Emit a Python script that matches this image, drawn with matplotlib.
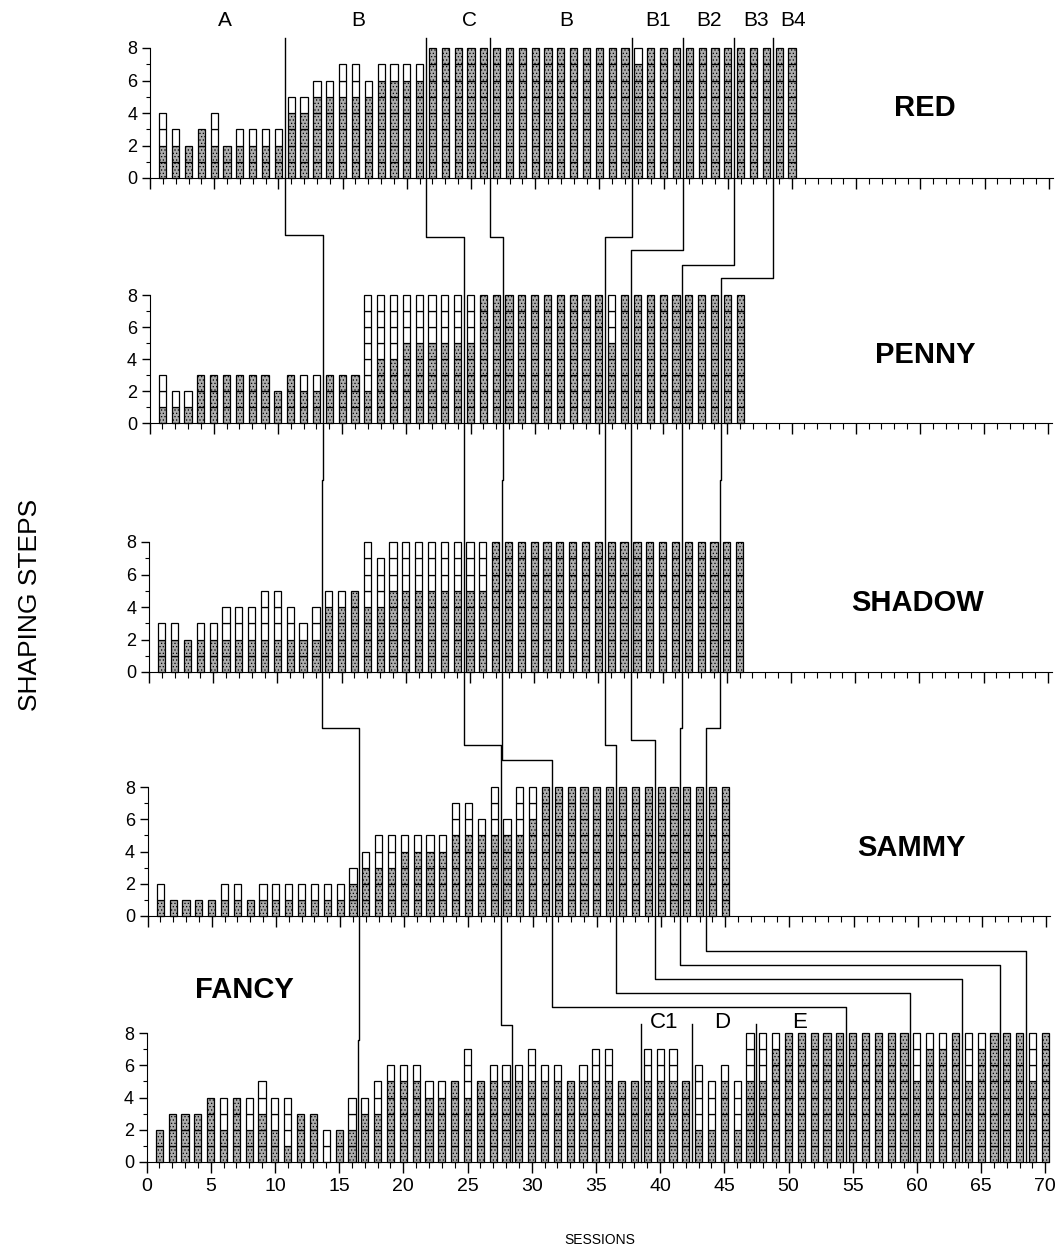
import numpy as np
import matplotlib.pyplot as plt
from matplotlib.lines import Line2D

plt.rcParams['font.family'] = ['Liberation Sans', 'DejaVu Sans']
plt.rcParams['hatch.linewidth'] = 0.5

# bar height = steps presented, shaded part = steps passed, one bar per session
red_total = [4,3,2,3,4,2,3,3,3,3, 5,5,6,6,7,7,6,7,7,7, 7,8,8,8,8,8,8,8,8,8,
             8,8,8,8,8,8,8,8,8,8, 8,8,8,8,8,8,8,8,8,8]
red_done  = [2,2,2,3,2,2,2,2,2,2, 4,4,5,5,5,5,5,6,6,6, 6,8,8,8,8,8,8,8,8,8,
             8,8,8,8,8,8,8,7,8,8, 8,8,8,8,8,8,8,8,8,8]

penny_total = [3,2,2,3,3,3,3,3,3,2, 3,3,3,3,3,3,8,8,8,8, 8,8,8,8,8,8,8,8,8,8,
               8,8,8,8,8,8,8,8,8,8, 8,8,8,8,8,8]
penny_done  = [1,1,1,3,3,3,3,3,3,2, 3,2,2,3,3,3,2,4,4,5, 5,5,5,5,5,8,8,8,8,8,
               8,8,8,8,8,5,8,8,8,8, 8,8,8,8,8,8]

shadow_total = [3,3,2,3,3,4,4,4,5,5, 4,3,4,5,5,5,8,7,8,8, 8,8,8,8,8,8,8,8,8,8,
                8,8,8,8,8,8,8,8,8,8, 8,8,8,8,8,8]
shadow_done  = [2,2,2,2,2,2,2,2,2,2, 2,2,2,4,4,5,4,4,5,5, 5,5,5,5,5,5,8,8,8,8,
                8,8,8,8,8,8,8,8,8,8, 8,8,8,8,8,8]

sammy_total = [2,1,1,1,1,2,2,1,2,2, 2,2,2,2,2,3,4,5,5,5, 5,5,5,7,7,6,8,6,8,8,
               8,8,8,8,8,8,8,8,8,8, 8,8,8,8,8]
sammy_done  = [1,1,1,1,1,1,1,1,1,1, 1,1,1,1,1,2,3,3,3,4, 4,4,4,5,5,5,5,5,5,6,
               8,8,8,8,8,8,8,8,8,8, 8,8,8,8,8]

fancy_total = [2,3,3,3,4,4,4,4,5,4, 4,3,3,2,2,4,4,5,6,6, 6,5,5,5,7,5,6,6,6,7,
               6,6,5,6,7,7,5,5,7,7, 7,5,6,5,6,5,8,8,8,8, 8,8,8,8,8,8,8,8,8,8,
               8,8,8,8,8,8,8,8,8,8]
fancy_done  = [2,3,3,3,4,2,4,2,3,2, 1,3,3,0,2,2,3,3,5,5, 5,4,4,5,4,5,5,5,5,5,
               5,5,5,5,5,5,5,5,5,5, 5,5,2,2,5,2,5,5,7,8, 8,8,8,8,8,8,8,8,8,5,
               7,7,8,5,7,8,8,8,5,8]

names = ['RED', 'PENNY', 'SHADOW', 'SAMMY', 'FANCY']
totals = [red_total, penny_total, shadow_total, sammy_total, fancy_total]
dones = [red_done, penny_done, shadow_done, sammy_done, fancy_done]

# phase boundaries (session) for each subject, top to bottom
boundaries = [
    [10.5, 13.5, 13.5, 16.5, 16.5],
    [21.5, 24.5, 24.5, 27.5, 28.5],
    [26.5, 27.5, 27.5, 31.5, 54.5],
    [37.5, 35.5, 35.5, 36.5, 59.5],
    [41.5, 37.5, 37.5, 39.5, 63.5],
    [45.5, 41.5, 41.5, 41.5, 66.5],
    [48.5, 44.5, 44.5, 43.5, 68.5],
]
red_phases = ['A', 'B', 'C', 'B', 'B1', 'B2', 'B3', 'B4']
red_phase_x = [5.8, 16.2, 24.9, 32.4, 39.6, 43.5, 47.2, 50.1]
fancy_extra = [38.5, 42.5, 47.5]
fancy_extra_labels = ['C1', 'D', 'E']
fancy_extra_x = [40.3, 44.8, 50.9]

W, H = 1059, 1255
fig = plt.figure(figsize=(W / 100, H / 100), dpi=100)

lefts = [150, 149.5, 149, 147.5, 146.5]
y0s = [178, 423, 672, 916, 1162]
y8s = [48, 295, 542, 787, 1033]
pps = 12.84
xmax = 70.3

axes = []
for i in range(5):
    ax = fig.add_axes([lefts[i] / W, (H - y0s[i]) / H, xmax * pps / W, (y0s[i] - y8s[i]) / H])
    x = np.arange(1, len(totals[i]) + 1)
    tot = np.array(totals[i])
    done = np.array(dones[i])
    for k in range(8):
        g = (tot > k) & (done > k)
        w = (tot > k) & (done <= k)
        ax.bar(x[g], 1, width=0.56, bottom=k, facecolor='#adadad', edgecolor='black',
               linewidth=0.9, hatch='.....', clip_on=False)
        ax.bar(x[w], 1, width=0.56, bottom=k, facecolor='white', edgecolor='black',
               linewidth=0.9, clip_on=False)
    ax.set_xlim(0, xmax)
    ax.set_ylim(0, 8)
    for s in ['top', 'right']:
        ax.spines[s].set_visible(False)
    ax.set_xticks(range(0, 71, 5))
    ax.set_xticks(range(0, 71), minor=True)
    ax.set_yticks([0, 2, 4, 6, 8])
    ax.set_yticks([1, 3, 5, 7], minor=True)
    ax.tick_params(axis='x', which='major', length=8, width=1, labelsize=14)
    ax.tick_params(axis='x', which='minor', length=4, width=0.8)
    ax.tick_params(axis='y', which='major', length=6, width=1, labelsize=13, pad=3)
    ax.tick_params(axis='y', which='minor', length=3, width=0.8)
    if i < 4:
        ax.tick_params(axis='x', labelbottom=False)
    axes.append(ax)

# connecting lines across panels (pixel rows of the horizontal jogs)
jogs = [
    [235, 480, 728, 1040],
    [237, 480, 745, 1025],
    [237, 480, 760, 1007],
    [237, 480, 745, 993],
    [250, 480, 740, 979],
    [265, 480, 728, 965],
    [278, 480, 728, 951],
]


def xd(i, s):
    return axes[i].transData.transform((s, 0))[0]


for b, j in zip(boundaries, jogs):
    xs = [xd(0, b[0])]
    ys = [H - 38]
    for i in range(4):
        xs += [xd(i, b[i]), xd(i + 1, b[i + 1])]
        ys += [H - j[i], H - j[i]]
    xs.append(xd(4, b[4]))
    ys.append(axes[4].transData.transform((0, 0))[1])
    fig.add_artist(Line2D(np.array(xs) / W, np.array(ys) / H, transform=fig.transFigure,
                          color='black', lw=1))

for s in fancy_extra:
    xx = xd(4, s)
    y_bot = axes[4].transData.transform((0, 0))[1]
    fig.add_artist(Line2D([xx / W, xx / W], [(H - 1024) / H, y_bot / H],
                          transform=fig.transFigure, color='black', lw=1))

for lab, s in zip(red_phases, red_phase_x):
    fig.text(xd(0, s) / W, (H - 20) / H, lab, ha='center', va='center', fontsize=15)
for lab, s in zip(fancy_extra_labels, fancy_extra_x):
    fig.text(xd(4, s) / W, (H - 1023) / H, lab, ha='center', va='center', fontsize=16)

title_pos = [(925, 108), (925, 355), (918, 603), (911, 848), (244, 990)]
for n, (tx, ty) in zip(names, title_pos):
    fig.text(tx / W, (H - ty) / H, n, ha='center', va='center', fontsize=21, fontweight='bold')

fig.text(30 / W, (H - 605) / H, 'SHAPING STEPS', rotation=90, ha='center', va='center', fontsize=19)
fig.text(600 / W, (H - 1240) / H, 'SESSIONS', ha='center', va='center', fontsize=10)

fig.savefig('out.png', dpi=100)
